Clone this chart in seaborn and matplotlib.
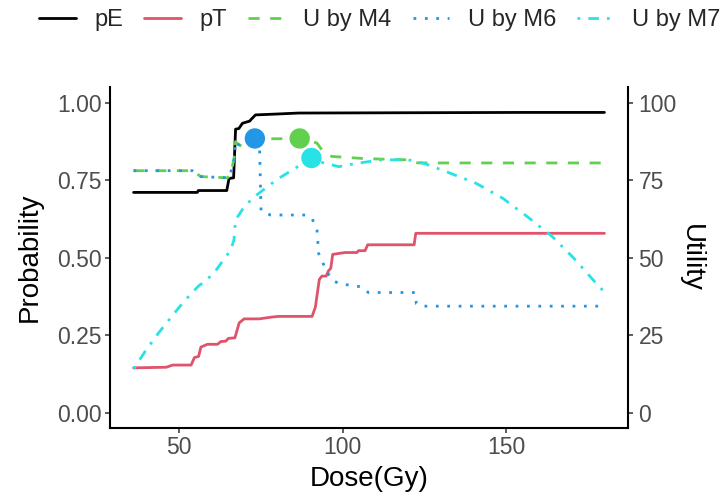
import numpy as np
import pandas as pd
import matplotlib
matplotlib.use("Agg")
import matplotlib.pyplot as plt
import seaborn as sns
from matplotlib.lines import Line2D

sns.set_theme(style="white")
plt.rcParams['font.family'] = ['Liberation Sans', 'DejaVu Sans']

# ---------------- data ----------------
pE_dose = [36, 55.5, 55.8, 64.5, 65.2, 66.6, 67.2, 68.2, 69.3, 71.5, 72.0, 73.3, 78, 86.5, 155.5, 180]
pE = [0.710, 0.710, 0.716, 0.716, 0.755, 0.757, 0.914, 0.916, 0.933, 0.940, 0.946, 0.960, 0.962, 0.966, 0.968, 0.968]

pT_dose = [36, 46, 48, 53.6, 54.6, 55.9, 56.6, 58.6, 61.7, 62.7, 64.2, 65.0, 67.0, 68.3, 69.8,
           74.4, 78.4, 80.4, 90.6, 91.6, 92.8, 93.6, 94.9, 95.6, 96.3, 96.9, 98.7, 100.7,
           104.3, 104.8, 106.8, 107.6, 121.8, 122.3, 180]
pT = [0.144, 0.146, 0.153, 0.153, 0.177, 0.181, 0.211, 0.220, 0.220, 0.229, 0.230, 0.239, 0.241, 0.289, 0.302,
      0.302, 0.308, 0.310, 0.310, 0.340, 0.429, 0.440, 0.440, 0.457, 0.465, 0.510, 0.513, 0.516,
      0.516, 0.522, 0.522, 0.541, 0.541, 0.578, 0.578]

m4_dose = [36, 54, 56.6, 64.7, 65.5, 66.7, 67.2, 68.0, 69.3, 71.0, 73.1, 80, 86.8, 89, 92.1, 93.6,
           96.6, 106.8, 120, 123, 180]
m4_util = [78.0, 78.0, 76.1, 75.7, 76.5, 81.5, 87.4, 86.5, 85.8, 86.8, 88.3, 88.3, 88.4, 88.0, 86.9, 84.7,
           82.6, 81.9, 81.5, 80.5, 80.5]

m6_dose = [36, 54, 56.6, 64.7, 65.5, 66.7, 67.2, 68.0, 69.3, 71.0, 73.1, 74.5, 75.0, 77.9, 88.5, 90.6,
           92.1, 92.6, 94.9, 96.6, 98.7, 105.8, 107.8, 122, 122.5, 124, 180]
m6_util = [78.0, 78.0, 76.1, 75.7, 76.5, 81.5, 87.4, 86.5, 85.8, 86.8, 88.3, 87.0, 65.0, 63.7, 63.7, 62.6,
           58.8, 51.3, 45.9, 42.9, 41.6, 40.5, 38.7, 38.7, 35.1, 34.3, 34.3]

m7_dose = [36.1, 39.4, 43.9, 50, 53.6, 56.1, 57.6, 60.6, 65.7, 66.7, 67.2, 69.3, 72.3, 79.9, 84.5, 90.4,
           93, 95.6, 98.7, 105, 111.9, 120, 125, 131.6, 140.8, 148.9, 156.5, 164.1, 170.7, 177.1, 179.5]
m7_util = [14.1, 19.5, 26.0, 34.0, 38.4, 41.0, 42.1, 45.0, 52.4, 55.6, 62.1, 65.5, 69.1, 75.2, 78.2, 82.1,
           80.8, 80.2, 79.3, 80.5, 81.5, 81.5, 80.3, 77.7, 73.9, 69.1, 63.1, 56.7, 49.7, 42.1, 39.4]

opt_labels = ["U by M6", "U by M4", "U by M7"]
opt_dose = [73.1, 86.8, 90.4]
opt_util = [88.4, 88.4, 82.1]

colors = {"pE": "#000000", "pT": "#DF536B", "U by M4": "#61D04F",
          "U by M6": "#2297E6", "U by M7": "#28E2E5"}
styles = {"pE": "-", "pT": "-", "U by M4": (0, (4.0, 3.8)),
          "U by M6": (0, (1, 3.1)), "U by M7": (0, (1, 2.9, 3.8, 2.9))}

# ---------------- figure ----------------
fig = plt.figure(figsize=(7.23, 4.98), dpi=100)
ax = fig.add_axes([110/723, 1-428/498, 518/723, 341/498])
ax2 = ax.twinx()

lw = 2.0
prob_series = [("pE", pE_dose, pE), ("pT", pT_dose, pT)]
util_series = [("U by M4", m4_dose, m4_util), ("U by M6", m6_dose, m6_util), ("U by M7", m7_dose, m7_util)]

for name, xs, ys in prob_series:
    sns.lineplot(x=xs, y=ys, ax=ax, color=colors[name], linewidth=lw,
                 estimator=None, sort=False, linestyle=styles[name])
for name, xs, ys in util_series:
    sns.lineplot(x=xs, y=ys, ax=ax2, color=colors[name], linewidth=lw,
                 estimator=None, sort=False, linestyle=styles[name])

pts = pd.DataFrame({"dose": opt_dose, "util": opt_util, "method": opt_labels})
sns.scatterplot(data=pts, x="dose", y="util", hue="method",
                palette={k: colors[k] for k in opt_labels}, s=215,
                edgecolor="none", ax=ax2, legend=False, zorder=5)

ax.set_xlim(36 - 7.2, 180 + 7.2)
ax.set_ylim(-0.05, 1.05)
ax2.set_ylim(-5, 105)
ax.set_xticks([50, 100, 150])
ax.set_yticks([0, 0.25, 0.5, 0.75, 1.0])
ax.set_yticklabels(["0.00", "0.25", "0.50", "0.75", "1.00"])
ax2.set_yticks([0, 25, 50, 75, 100])

for a in (ax, ax2):
    for s in a.spines.values():
        s.set_visible(False)
ax.spines["left"].set_visible(True)
ax.spines["bottom"].set_visible(True)
ax2.spines["right"].set_visible(True)
for sp in (ax.spines["left"], ax.spines["bottom"], ax2.spines["right"]):
    sp.set_color("black")
    sp.set_linewidth(1.5)

tick_fs = 16.5
ax.tick_params(axis="both", which="both", direction="out", length=3.5, width=1.1,
               color="#333333", labelcolor="#4D4D4D", labelsize=tick_fs, pad=2.5,
               left=True, bottom=True)
ax2.tick_params(axis="y", direction="out", length=3.5, width=1.1, color="#333333",
                labelcolor="#4D4D4D", labelsize=tick_fs, pad=4, right=True)
ax.grid(False)
ax2.grid(False)

ax.set_xlabel("Dose(Gy)", fontsize=20, color="black", va="center")
ax.xaxis.set_label_coords(0.5, (428 - 479) / 341)
ax.set_ylabel("Probability", fontsize=20, color="black", va="center")
ax.yaxis.set_label_coords((30 - 110) / 518, 0.5)
ax2.set_ylabel("Utility", fontsize=20, color="black", rotation=270, va="center")
ax2.yaxis.set_label_coords((691 - 110) / 518, 0.5)

names = ["pE", "pT", "U by M4", "U by M6", "U by M7"]
handles = [Line2D([], [], color=colors[n], linestyle=styles[n], linewidth=lw) for n in names]
fig.legend(handles, names, loc="center", bbox_to_anchor=(380/723, 1 - 20/498), ncol=5,
           frameon=False, fontsize=17, handlelength=1.55, handletextpad=0.78,
           columnspacing=0.9, borderpad=0, borderaxespad=0)

fig.savefig("out.png", dpi=100)
